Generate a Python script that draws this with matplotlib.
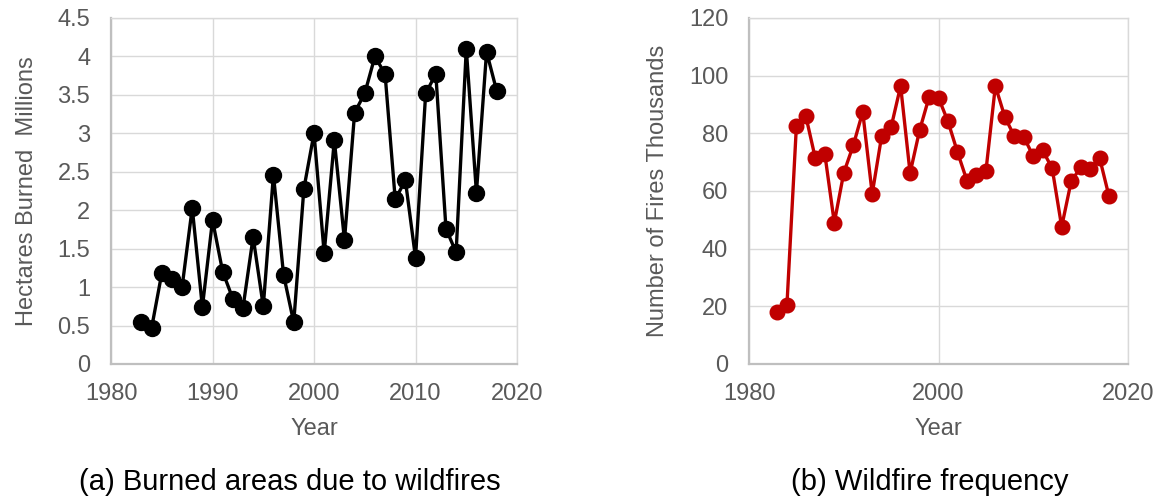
import matplotlib.pyplot as plt
from matplotlib.ticker import FuncFormatter

plt.rcParams['font.family'] = ['Liberation Sans', 'DejaVu Sans']

# data
years = list(range(1983, 2019))
hectares_millions = [0.54, 0.47, 1.18, 1.10, 1.00, 2.03, 0.74, 1.87, 1.20, 0.85,
                     0.73, 1.65, 0.75, 2.46, 1.16, 0.54, 2.28, 3.00, 1.44, 2.91,
                     1.61, 3.27, 3.52, 4.00, 3.77, 2.14, 2.39, 1.38, 3.52, 3.77,
                     1.76, 1.45, 4.10, 2.23, 4.06, 3.55]
fires_thousands = [18.2, 20.4, 82.6, 85.9, 71.3, 72.8, 49.0, 66.3, 75.8, 87.4,
                   59.0, 79.1, 82.2, 96.4, 66.2, 81.0, 92.5, 92.3, 84.1, 73.5,
                   63.6, 65.5, 66.8, 96.4, 85.7, 79.0, 78.8, 72.0, 74.1, 67.8,
                   47.6, 63.3, 68.2, 67.7, 71.5, 58.1]

left_yticks = [0, 0.5, 1, 1.5, 2, 2.5, 3, 3.5, 4, 4.5]
left_xticks = [1980, 1990, 2000, 2010, 2020]
right_yticks = [0, 20, 40, 60, 80, 100, 120]
right_xticks = [1980, 2000, 2020]

GRID = '#d9d9d9'
AXIS = '#bfbfbf'
TICK = '#595959'

fig = plt.figure(figsize=(11.7, 4.98), dpi=100)
ax1 = fig.add_axes([0.0949, 0.2691, 0.347, 0.6948])
ax2 = fig.add_axes([0.6402, 0.2691, 0.3239, 0.6948])


def style(ax, xticks, yticks, ylabel, ylabelpad):
    ax.set_xlim(xticks[0], xticks[-1])
    ax.set_ylim(yticks[0], yticks[-1])
    ax.set_xticks(xticks)
    ax.set_yticks(yticks)
    ax.yaxis.set_major_formatter(FuncFormatter(lambda v, p: f'{v:g}'))
    ax.grid(True, color=GRID, linewidth=1.0)
    ax.set_axisbelow(True)
    for s in ('top', 'right'):
        ax.spines[s].set_color(GRID)
        ax.spines[s].set_linewidth(1.0)
    for s in ('left', 'bottom'):
        ax.spines[s].set_color(AXIS)
        ax.spines[s].set_linewidth(1.6)
    ax.tick_params(axis='y', length=0, pad=15, labelsize=17, labelcolor=TICK)
    ax.tick_params(axis='x', length=0, pad=14, labelsize=17, labelcolor=TICK)
    ax.set_xlabel('Year', fontsize=17, color=TICK, labelpad=9)
    ax.set_ylabel(ylabel, fontsize=17, color=TICK, labelpad=ylabelpad)


ax1.plot(years, hectares_millions, color='black', linewidth=2.4,
         marker='o', markersize=11.5, clip_on=False)
style(ax1, left_xticks, left_yticks, 'Hectares Burned  Millions', 14)

ax2.plot(years, fires_thousands, color='#c00000', linewidth=2.4,
         marker='o', markersize=10.5, clip_on=False)
style(ax2, right_xticks, right_yticks, 'Number of Fires Thousands', 14)

fig.text(0.248, 0.032, '(a) Burned areas due to wildfires', ha='center',
         va='center', fontsize=21, color='black')
fig.text(0.795, 0.032, '(b) Wildfire frequency', ha='center',
         va='center', fontsize=21, color='black')

plt.savefig('out.png', dpi=100)
